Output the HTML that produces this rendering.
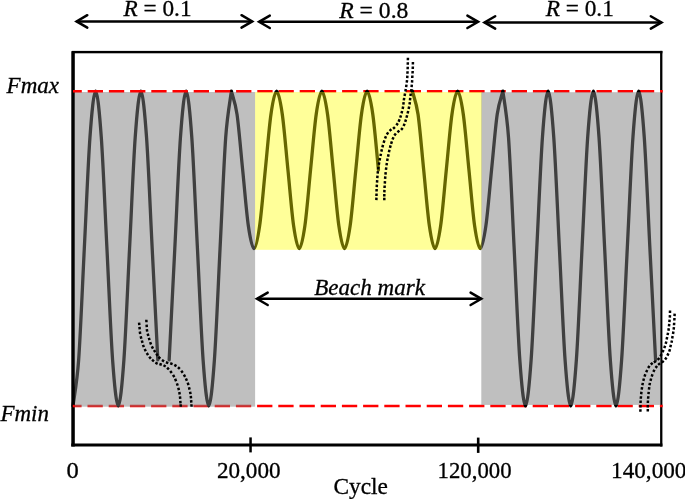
<!DOCTYPE html>
<html><head><meta charset="utf-8"><title>Cycle</title>
<style>
html,body{margin:0;padding:0;background:#fff;}
body{width:685px;height:499px;overflow:hidden;}
svg{display:block;}
text{font-family:"Liberation Serif",serif;font-size:23px;fill:#000;stroke:#000;stroke-width:0.3px;}
.i{font-style:italic;}
</style></head><body>
<svg width="685" height="499" viewBox="0 0 685 499">
<rect width="685" height="499" fill="#fff"/>
<!-- frame -->
<g fill="#000">
<rect x="71.3" y="51.2" width="3.5" height="395.3"/>
<rect x="71.3" y="443.5" width="591.1" height="3"/>
<rect x="72" y="50.9" width="590.4" height="2.4"/>
<rect x="660.1" y="50.9" width="2.3" height="395.6"/>
<rect x="249.3" y="437.4" width="2.5" height="15"/>
<rect x="476.9" y="437.6" width="2.6" height="15.3"/>
</g>
<!-- bottom red -->
<path d="M72.8 406 H662.7" stroke="#f00" stroke-width="2.3" stroke-dasharray="15.3 5.9" stroke-dashoffset="6.5" fill="none"/>
<path d="M255 91.35 H662.7" stroke="#f00" stroke-width="2.5" stroke-dasharray="15.3 5.9" stroke-dashoffset="18.90" fill="none"/>
<!-- wave -->
<path d="M73.00 405.90 C73.94 398.22 76.99 382.96 78.66 359.80 C80.54 333.57 82.43 285.60 84.31 248.50 C86.20 211.40 88.08 163.43 89.97 137.20 C91.63 114.04 93.74 91.10 95.62 91.10 C97.51 91.10 99.62 114.04 101.28 137.20 C103.17 163.43 105.05 211.40 106.94 248.50 C108.82 285.60 110.71 333.57 112.59 359.80 C114.26 382.96 116.36 405.90 118.25 405.90 C120.14 405.90 122.24 382.96 123.91 359.80 C125.79 333.57 127.68 285.60 129.56 248.50 C131.45 211.40 133.33 163.43 135.22 137.20 C136.88 114.04 138.99 91.10 140.88 91.10 C142.76 91.10 144.87 114.04 146.53 137.20 C148.42 163.43 150.30 211.40 152.19 248.50 C154.07 285.60 156.90 341.25 157.84 359.80 M169.16 359.80 C170.10 341.25 172.93 285.60 174.81 248.50 C176.70 211.40 178.58 163.43 180.47 137.20 C182.13 114.04 184.24 91.10 186.12 91.10 C188.01 91.10 190.12 114.04 191.78 137.20 C193.67 163.43 195.55 211.40 197.44 248.50 C199.32 285.60 201.21 333.57 203.09 359.80 C204.76 382.96 206.86 405.90 208.75 405.90 C210.64 405.90 212.74 382.96 214.41 359.80 C216.29 333.57 218.18 285.60 220.06 248.50 C221.95 211.40 223.83 163.43 225.72 137.20 C227.38 114.04 230.43 98.78 231.38 91.10 M231.38 91.10 C232.32 94.98 235.34 102.52 237.03 114.37 C238.92 127.55 240.80 151.60 242.69 170.17 C244.57 188.75 246.46 212.73 248.34 225.81 C250.02 237.48 252.11 248.73 254.00 248.70 C255.89 248.67 257.97 237.38 259.66 225.62 C261.54 212.49 263.43 188.47 265.31 169.90 C267.20 151.33 269.08 127.31 270.97 114.18 C272.66 102.42 274.74 91.10 276.62 91.10 C278.51 91.10 280.59 102.42 282.28 114.18 C284.17 127.31 286.05 151.33 287.94 169.90 C289.82 188.47 291.71 212.49 293.59 225.62 C295.28 237.38 297.36 248.70 299.25 248.70 C301.14 248.70 303.22 237.38 304.91 225.62 C306.79 212.49 308.68 188.47 310.56 169.90 C312.45 151.33 314.33 127.31 316.22 114.18 C317.91 102.42 319.99 91.10 321.88 91.10 C323.76 91.10 325.84 102.42 327.53 114.18 C329.42 127.31 331.30 151.33 333.19 169.90 C335.07 188.47 336.96 212.49 338.84 225.62 C340.53 237.38 342.61 248.70 344.50 248.70 C346.39 248.70 348.47 237.38 350.16 225.62 C352.04 212.49 353.93 188.47 355.81 169.90 C357.70 151.33 359.58 127.31 361.47 114.18 C363.16 102.42 365.24 91.10 367.12 91.10 C369.01 91.10 371.09 102.42 372.78 114.18 C374.67 127.31 377.49 160.61 378.44 169.90 M412.38 91.10 C413.32 94.95 416.34 102.42 418.03 114.18 C419.92 127.31 421.80 151.33 423.69 169.90 C425.57 188.47 427.46 212.49 429.34 225.62 C431.03 237.38 433.11 248.70 435.00 248.70 C436.89 248.70 438.97 237.38 440.66 225.62 C442.54 212.49 444.43 188.47 446.31 169.90 C448.20 151.33 450.08 127.31 451.97 114.18 C453.66 102.42 455.74 91.10 457.62 91.10 C459.51 91.10 461.59 102.42 463.28 114.18 C465.17 127.31 467.05 151.33 468.94 169.90 C470.82 188.47 472.71 212.49 474.59 225.62 C476.28 237.38 478.36 248.70 480.25 248.70 C482.14 248.70 484.22 237.38 485.91 225.62 C487.79 212.49 489.68 188.47 491.56 169.90 C493.45 151.33 495.33 127.31 497.22 114.18 C498.91 102.42 501.93 94.95 502.88 91.10 M502.88 91.10 C503.82 98.85 506.86 114.23 508.53 137.59 C510.42 163.91 512.30 211.95 514.19 249.05 C516.07 286.15 517.96 334.04 519.84 360.18 C521.50 383.16 523.61 406.03 525.50 405.90 C527.39 405.77 529.48 382.77 531.16 359.41 C533.04 333.09 534.93 285.05 536.81 247.95 C538.70 210.85 540.58 162.96 542.47 136.82 C544.13 113.84 546.24 90.97 548.12 91.10 C550.01 91.23 552.11 114.23 553.78 137.59 C555.67 163.91 557.55 211.95 559.44 249.05 C561.32 286.15 563.21 334.04 565.09 360.18 C566.75 383.16 568.86 406.03 570.75 405.90 C572.64 405.77 574.73 382.77 576.41 359.41 C578.29 333.09 580.18 285.05 582.06 247.95 C583.95 210.85 585.83 162.96 587.72 136.82 C589.38 113.84 591.49 90.97 593.38 91.10 C595.26 91.23 597.36 114.23 599.03 137.59 C600.92 163.91 602.80 211.95 604.69 249.05 C606.57 286.15 608.46 334.04 610.34 360.18 C612.00 383.16 614.11 406.03 616.00 405.90 C617.89 405.77 619.98 382.77 621.66 359.41 C623.54 333.09 625.43 285.05 627.31 247.95 C629.20 210.85 631.08 162.96 632.97 136.82 C634.63 113.84 636.74 90.97 638.62 91.10 C640.51 91.23 642.61 114.23 644.28 137.59 C646.17 163.91 648.05 211.95 649.94 249.05 C651.82 286.15 654.65 341.66 655.59 360.18" fill="none" stroke="#000" stroke-width="3.3" stroke-linejoin="round" stroke-linecap="round"/>
<rect x="72.8" y="404.85" width="2" height="2.3" fill="#f00"/>
<!-- fills -->
<rect x="74.8" y="92" width="180.3" height="314.7" fill="rgba(128,128,128,0.5)"/>
<rect x="255.1" y="92" width="226.8" height="157.8" fill="rgba(255,255,0,0.4)"/>
<rect x="481.3" y="92.2" width="179.7" height="312.7" fill="rgba(128,128,128,0.5)"/>
<!-- top red -->
<path d="M73 91.35 H255" stroke="#f00" stroke-width="2.5" stroke-dasharray="15.3 5.9" stroke-dashoffset="6.5" fill="none"/>
<!-- breaks -->
<g fill="none" stroke="#000" stroke-width="2.5"><path d="M139.09 322.56 L139.31 325.04M139.49 326.95 L139.71 329.45M139.81 331.56 L140.19 334.04M140.70 336.29 L141.30 338.71M141.86 340.50 L142.54 342.90M142.98 344.82 L143.82 347.18M144.65 348.98 L145.75 351.22M146.73 353.04 L148.07 355.16M149.18 356.75 L150.82 358.65M152.05 359.79 L153.95 361.41M155.38 362.64 L157.62 363.76M159.41 364.00 L161.79 364.80M163.51 365.28 L165.69 366.52M167.10 367.73 L168.90 369.47M170.24 371.11 L171.76 373.09M173.07 374.92 L174.33 377.08M175.11 378.85 L176.09 381.15M176.90 383.32 L177.70 385.68M178.29 387.69 L178.91 390.11M179.29 391.97 L179.71 394.43M179.97 396.46 L180.23 398.94M180.30 400.85 L180.50 403.35M180.59 404.25 L180.81 406.75"/><path d="M146.32 319.75 L146.48 322.25M146.62 324.55 L146.78 327.05M146.82 329.16 L147.18 331.64M147.69 333.59 L148.31 336.01M148.83 337.80 L149.57 340.20M150.16 342.13 L151.04 344.47M151.83 346.39 L152.97 348.61M153.93 350.05 L155.27 352.15M156.26 353.69 L157.74 355.71M158.52 356.82 L160.28 358.58M161.95 360.02 L164.05 361.38M165.92 362.28 L168.28 363.12M170.22 363.30 L172.58 364.10M174.32 364.87 L176.48 366.13M177.99 367.24 L179.81 368.96M181.26 370.69 L182.74 372.71M183.89 374.61 L185.11 376.79M185.90 378.46 L186.90 380.74M187.71 382.71 L188.49 385.09M189.00 387.19 L189.60 389.61M190.07 391.67 L190.53 394.13M190.77 395.86 L191.03 398.34M191.11 400.05 L191.29 402.55M191.41 404.25 L191.59 406.75"/><path d="M407.93 57.75 L407.87 60.25M407.83 62.25 L407.77 64.75M407.74 66.75 L407.66 69.25M407.56 71.25 L407.44 73.75M407.38 75.55 L407.22 78.05M407.04 80.16 L406.76 82.64M406.48 84.66 L406.12 87.14M405.81 89.07 L405.39 91.53M405.02 93.57 L404.58 96.03M404.19 97.86 L403.81 100.34M403.66 102.16 L403.34 104.64M403.14 106.57 L402.66 109.03M402.12 110.99 L401.48 113.41M400.99 115.31 L400.21 117.69M399.61 119.36 L398.59 121.64M397.81 123.27 L396.39 125.33M394.94 127.07 L393.06 128.73M391.45 129.29 L389.55 130.91M388.21 132.37 L386.79 134.43M385.99 136.25 L385.01 138.55M384.38 140.41 L383.62 142.79M383.03 144.89 L382.37 147.31M381.88 149.18 L381.32 151.62M380.95 153.68 L380.45 156.12M380.04 157.97 L379.56 160.43M379.21 162.37 L378.79 164.83M378.47 166.86 L378.13 169.34M377.93 171.16 L377.67 173.64M377.50 175.65 L377.30 178.15M377.18 180.05 L377.02 182.55M376.87 184.65 L376.73 187.15M376.64 189.05 L376.56 191.55M376.53 193.45 L376.47 195.95M376.43 197.65 L376.37 200.15"/><path d="M412.93 61.95 L412.87 64.45M412.84 66.55 L412.76 69.05M412.67 71.05 L412.53 73.55M412.37 75.55 L412.23 78.05M412.18 80.15 L412.02 82.65M411.81 84.66 L411.59 87.14M411.45 89.06 L411.15 91.54M410.77 93.56 L410.43 96.04M410.23 97.86 L409.97 100.34M409.87 102.06 L409.53 104.54M409.15 106.57 L408.65 109.03M408.19 110.98 L407.61 113.42M407.13 115.29 L406.47 117.71M405.99 119.51 L405.21 121.89M404.61 123.66 L403.59 125.94M402.72 127.95 L401.08 129.85M399.36 130.60 L397.44 132.20M395.86 133.61 L394.34 135.59M393.51 137.26 L392.49 139.54M391.89 141.41 L391.11 143.79M390.63 145.39 L389.97 147.81M389.47 149.78 L388.93 152.22M388.55 154.28 L388.05 156.72M387.63 158.57 L387.17 161.03M386.88 162.96 L386.52 165.44M386.25 167.46 L385.95 169.94M385.72 172.06 L385.48 174.54M385.30 176.45 L385.10 178.95M384.98 181.05 L384.82 183.55M384.67 185.45 L384.53 187.95M384.44 189.85 L384.36 192.35M384.32 194.05 L384.28 196.55M384.30 197.75 L384.30 200.25"/><path d="M670.03 310.55 L669.97 313.05M669.97 315.15 L669.83 317.65M669.61 319.56 L669.39 322.04M669.23 323.96 L668.97 326.44M668.78 328.26 L668.42 330.74M668.04 332.67 L667.56 335.13M667.15 337.08 L666.65 339.52M666.31 341.49 L665.69 343.91M665.12 345.72 L664.28 348.08M663.51 350.06 L662.49 352.34M661.63 354.12 L660.37 356.28M659.36 357.99 L657.64 359.81M655.92 360.98 L653.88 362.42M652.65 362.89 L650.75 364.51M649.50 365.86 L648.10 367.94M647.22 369.96 L646.18 372.24M645.32 374.22 L644.48 376.58M643.92 378.49 L643.28 380.91M642.84 382.87 L642.36 385.33M642.08 387.16 L641.72 389.64M641.44 391.76 L641.16 394.24M641.00 396.25 L640.80 398.75M640.66 400.55 L640.54 403.05M640.53 405.05 L640.47 407.55M640.43 409.25 L640.37 411.75"/><path d="M674.66 313.65 L674.54 316.15M674.47 318.05 L674.33 320.55M674.18 322.75 L674.02 325.25M673.93 327.16 L673.67 329.64M673.40 331.57 L673.00 334.03M672.61 335.97 L672.19 338.43M671.95 340.38 L671.45 342.82M670.89 344.78 L670.31 347.22M669.98 349.21 L669.22 351.59M668.43 353.37 L667.37 355.63M666.52 357.48 L665.08 359.52M663.76 360.90 L661.84 362.50M660.08 363.32 L658.12 364.88M657.07 365.91 L655.53 367.89M654.45 369.68 L653.35 371.92M652.51 374.22 L651.69 376.58M651.13 378.50 L650.47 380.90M649.94 382.87 L649.46 385.33M649.25 387.16 L648.95 389.64M648.72 391.76 L648.48 394.24M648.30 396.25 L648.10 398.75M647.96 400.55 L647.84 403.05M647.81 405.05 L647.79 407.55M647.80 408.95 L647.80 411.45"/></g>
<!-- arrows -->
<g fill="none" stroke="#000" stroke-width="2.5" stroke-linecap="round" stroke-linejoin="miter" stroke-miterlimit="10"><path d="M76.6 21.40 H252.2" stroke-linecap="butt"/><path d="M87.29 15.20 L76.59 21.40 L87.29 27.60"/><path d="M241.51 15.20 L252.21 21.40 L241.51 27.60"/></g>
<g fill="none" stroke="#000" stroke-width="2.5" stroke-linecap="round" stroke-linejoin="miter" stroke-miterlimit="10"><path d="M259.1 21.80 H478.1" stroke-linecap="butt"/><path d="M269.79 15.60 L259.09 21.80 L269.79 28.00"/><path d="M467.41 15.60 L478.11 21.80 L467.41 28.00"/></g>
<g fill="none" stroke="#000" stroke-width="2.5" stroke-linecap="round" stroke-linejoin="miter" stroke-miterlimit="10"><path d="M484.5 22.45 H661.5" stroke-linecap="butt"/><path d="M495.19 16.25 L484.49 22.45 L495.19 28.65"/><path d="M650.81 16.25 L661.51 22.45 L650.81 28.65"/></g>
<g fill="none" stroke="#000" stroke-width="2.5" stroke-linecap="round" stroke-linejoin="miter" stroke-miterlimit="10"><path d="M257.0 298.80 H481.3" stroke-linecap="butt"/><path d="M267.69 292.60 L256.99 298.80 L267.69 305.00"/><path d="M470.61 292.60 L481.31 298.80 L470.61 305.00"/></g>
<!-- text -->
<text id="t_R1" transform="translate(123.60 15.6) scale(1.0106 1.01)"><tspan class="i">R</tspan> = 0.1</text>
<text id="t_R2" transform="translate(339.25 17.8) scale(1.0279 1.01)"><tspan class="i">R</tspan> = 0.8</text>
<text id="t_R3" transform="translate(545.70 15.8) scale(1.0129 1.01)"><tspan class="i">R</tspan> = 0.1</text>
<text id="t_Fmax" class="i" transform="translate(6.60 93.4) scale(1.0010 1.01)">Fmax</text>
<text id="t_Fmin" class="i" transform="translate(0.40 421.0) scale(0.9990 1.01)">Fmin</text>
<text id="t_Beach" class="i" transform="translate(314.20 295.4) scale(1.0026 1.01)">Beach mark</text>
<text id="t_0" transform="translate(66.49 477.8) scale(1.0684 1.035)">0</text>
<text id="t_20k" transform="translate(216.89 478.3) scale(1.0066 1.035)">20,000</text>
<text id="t_120k" transform="translate(437.62 478.3) scale(0.9896 1.035)">120,000</text>
<text id="t_140k" transform="translate(611.08 477.8) scale(1.0083 1.035)">140,000</text>
<text id="t_Cycle" transform="translate(333.52 493.6) scale(1.0146 1.01)">Cycle</text>

</svg>
</body></html>
